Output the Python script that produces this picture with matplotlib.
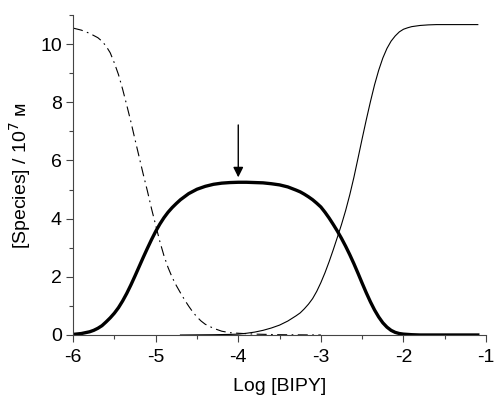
import matplotlib
matplotlib.use("Agg")
import matplotlib.pyplot as plt
from matplotlib.ticker import MultipleLocator

plt.rcParams['font.family'] = ['Liberation Sans', 'DejaVu Sans']
plt.rcParams['axes.unicode_minus'] = False

# free metal (dash-dot)
x_free = [-6.0, -5.9, -5.8, -5.7, -5.65, -5.6, -5.55, -5.5, -5.45, -5.4, -5.35,
          -5.3, -5.25, -5.2, -5.15, -5.1, -5.05, -5.0, -4.95, -4.9, -4.85,
          -4.8, -4.75, -4.7, -4.65, -4.6, -4.55, -4.5, -4.45, -4.4, -4.3,
          -4.2, -4.1, -4.0, -3.8, -3.5, -3.0]
y_free = [10.55, 10.48, 10.37, 10.22, 10.10, 9.93, 9.70, 9.35, 8.95, 8.45, 7.90,
          7.33, 6.72, 6.12, 5.52, 4.95, 4.34, 3.78, 3.22, 2.73, 2.32,
          1.98, 1.70, 1.45, 1.21, 0.99, 0.79, 0.62, 0.48, 0.37, 0.23,
          0.13, 0.08, 0.06, 0.03, 0.01, 0.0]

# intermediate complex (thick)
x_mid = [-6.0, -5.9, -5.8, -5.75, -5.7, -5.65, -5.6, -5.55, -5.5, -5.45, -5.4,
         -5.35, -5.3, -5.25, -5.2, -5.15, -5.1, -5.05, -5.0, -4.95, -4.9,
         -4.85, -4.8, -4.75, -4.7, -4.6, -4.5, -4.4, -4.3, -4.2, -4.1,
         -4.0, -3.9, -3.8, -3.7, -3.6, -3.5, -3.4, -3.3, -3.25, -3.2,
         -3.15, -3.1, -3.05, -3.0, -2.95, -2.9, -2.85, -2.8, -2.75, -2.7,
         -2.65, -2.6, -2.55, -2.5, -2.45, -2.4, -2.35, -2.3, -2.25, -2.2,
         -2.15, -2.1, -2.05, -2.0, -1.9, -1.8, -1.5, -1.1]
y_mid = [0.02, 0.05, 0.11, 0.16, 0.23, 0.32, 0.45, 0.59, 0.75, 0.94, 1.17,
         1.43, 1.72, 2.03, 2.35, 2.67, 2.98, 3.28, 3.56, 3.81, 4.03,
         4.22, 4.38, 4.52, 4.65, 4.86, 5.01, 5.11, 5.18, 5.22, 5.24,
         5.25, 5.25, 5.24, 5.23, 5.20, 5.16, 5.09, 4.98, 4.92, 4.84,
         4.75, 4.65, 4.53, 4.40, 4.22, 4.02, 3.80, 3.57, 3.32, 3.05,
         2.76, 2.45, 2.12, 1.78, 1.45, 1.14, 0.86, 0.62, 0.42, 0.27,
         0.16, 0.09, 0.05, 0.03, 0.01, 0.0, 0.0, 0.0]

# final complex (thin)
x_fin = [-4.7, -4.5, -4.3, -4.1, -4.0, -3.9, -3.8, -3.7, -3.6, -3.5, -3.4,
         -3.3, -3.25, -3.2, -3.15, -3.1, -3.05, -3.0, -2.95, -2.9, -2.85,
         -2.8, -2.75, -2.7, -2.65, -2.6, -2.55, -2.5, -2.45, -2.4, -2.35,
         -2.3, -2.25, -2.2, -2.15, -2.1, -2.05, -2.0, -1.95, -1.9, -1.8,
         -1.7, -1.6, -1.4, -1.1]
y_fin = [0.0, 0.005, 0.01, 0.02, 0.03, 0.06, 0.10, 0.16, 0.24, 0.34, 0.48,
         0.66, 0.76, 0.90, 1.06, 1.25, 1.50, 1.80, 2.14, 2.52, 2.93,
         3.36, 3.80, 4.28, 4.82, 5.42, 6.08, 6.75, 7.40, 8.02, 8.60,
         9.10, 9.52, 9.85, 10.10, 10.28, 10.42, 10.51, 10.56, 10.60, 10.64,
         10.66, 10.67, 10.67, 10.67]

arrow_x = -4.0
arrow_from = 7.22
arrow_to = 5.42

fig = plt.figure(figsize=(4.97, 4.01), dpi=100)
ax = fig.add_axes([0.147, 0.1646, 0.831, 0.798])

ax.plot(x_free, y_free, color='black', lw=0.8, linestyle=(0, (9, 4, 1.5, 4)))
ax.plot(x_mid, y_mid, color='black', lw=2.4, solid_joinstyle='round')
ax.plot(x_fin, y_fin, color='black', lw=0.8)

ax.annotate('', xy=(arrow_x, arrow_to), xytext=(arrow_x, arrow_from),
            arrowprops=dict(arrowstyle='-|>', color='black', lw=1.0,
                            mutation_scale=15, shrinkA=0, shrinkB=0))

ax.set_xlim(-6, -1)
ax.set_ylim(0, 11)
ax.xaxis.set_major_locator(MultipleLocator(1))
ax.xaxis.set_minor_locator(MultipleLocator(0.5))
ax.yaxis.set_major_locator(MultipleLocator(2))
ax.yaxis.set_minor_locator(MultipleLocator(1))
for s in ['top', 'right']:
    ax.spines[s].set_visible(False)
for s in ['left', 'bottom']:
    ax.spines[s].set_linewidth(0.8)
    ax.spines[s].set_color('#444444')
ax.tick_params(which='major', direction='out', length=5, width=0.8,
               labelsize=14, color='#444444')
ax.tick_params(axis='x', which='major', pad=5)
ax.tick_params(axis='y', which='major', pad=3)
ax.tick_params(which='minor', direction='out', length=3, width=0.8, color='#444444')

ax.set_xlabel('Log [BIPY]', fontsize=14, labelpad=9)
ax.set_ylabel('[Species] / 10$^{7}$ ᴍ', fontsize=14, labelpad=5)

fig.savefig('out.png', dpi=100)
